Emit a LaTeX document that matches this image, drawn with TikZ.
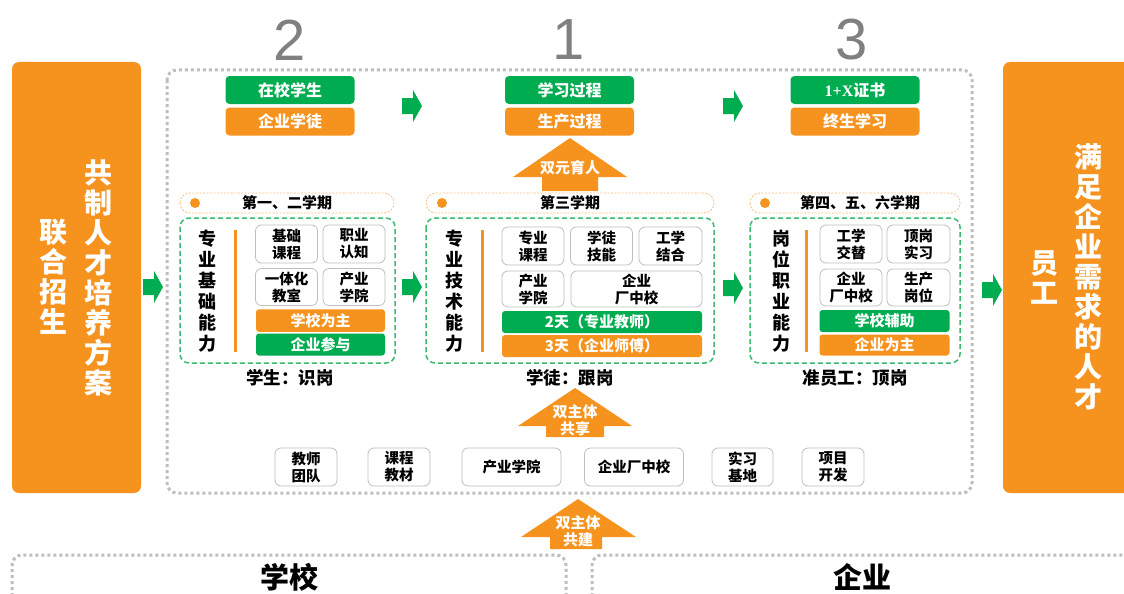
\documentclass[tikz,border=0pt]{standalone}
\usepackage{fontspec}
\setmainfont{Noto Sans CJK SC}
\newfontfamily\numfont{Liberation Sans}
\newfontfamily\serifb{Liberation Serif}
\definecolor{og}{RGB}{246,146,30}
\definecolor{gn}{RGB}{0,172,80}
\definecolor{lg}{RGB}{190,190,190}
\definecolor{dg}{RGB}{60,185,110}
\definecolor{lo}{RGB}{248,190,130}
\definecolor{numgray}{RGB}{128,128,128}
\tikzset{
  fs/.style={font=\bfseries\fontsize{#1}{#1*1.15}\selectfont},
  bigbox/.style={fill=og, rounded corners=7},
  vtext/.style={text=white, align=center, inner sep=0, font=\bfseries\fontsize{28}{30}\selectfont},
  topbar/.style={rounded corners=4, text=white, minimum width=129, minimum height=28, inner sep=0, font=\bfseries\fontsize{16}{18}\selectfont},
  gbar/.style={fill=gn, rounded corners=3, text=white, inner sep=0, font=\bfseries\fontsize{15}{17}\selectfont},
  obar/.style={fill=og, rounded corners=3, text=white, inner sep=0, font=\bfseries\fontsize{15}{17}\selectfont},
  gbox/.style={draw=lg, line width=0.8, fill=white, rounded corners=6, align=center, inner sep=0, font=\bfseries\fontsize{14.5}{17}\selectfont},
  dotline/.style={draw=lg, line width=3, dash pattern=on 3 off 3},
  grdash/.style={draw=dg, line width=1.5, dash pattern=on 5 off 3, rounded corners=9},
  pill/.style={draw=lo, line width=0.8, dash pattern=on 2 off 1.5, rounded corners=10},
  coltext/.style={align=center, inner sep=0, font=\bfseries\fontsize{18}{21}\selectfont},
  lab/.style={inner sep=0, font=\bfseries\fontsize{17.5}{20}\selectfont},
  semtext/.style={inner sep=0, font=\bfseries\fontsize{15}{17}\selectfont},
  arrtext/.style={text=white, align=center, inner sep=0, font=\bfseries\fontsize{15}{17}\selectfont},
  num/.style={text=numgray, inner sep=0, font=\numfont\fontsize{58}{60}\selectfont},
  garr/.pic={\fill[gn] (-10,-8) -- (1,-8) -- (1,-16) -- (10,0) -- (1,16) -- (1,8) -- (-10,8) -- cycle;},
}
\begin{document}
\begin{tikzpicture}[x=1pt,y=-1pt]
\useasboundingbox (0,0) rectangle (1124,594);
\clip (0,0) rectangle (1124,594);
\fill[white] (0,0) rectangle (1124,594);

% side boxes
\fill[bigbox] (12,62) rectangle (141,493);
\node[vtext] (lefta) at (98,278) {共\\制\\人\\才\\培\\养\\方\\案};
\node[vtext] (leftb) at (53,277) {联\\合\\招\\生};
\fill[bigbox] (1003,62) rectangle (1150,493);
\node[vtext] (righta) at (1088,277) {满\\足\\企\\业\\需\\求\\的\\人\\才};
\node[vtext] (rightb) at (1044,277) {员\\工};

% main dotted frame
\draw[dotline, rounded corners=10] (167,70) rectangle (972,493);
% bottom frames
\draw[dotline, rounded corners=10] (12,620) -- (12,555) -- (566,555) -- (566,620);
\draw[dotline, rounded corners=10] (592,620) -- (592,555) -- (1140,555);
\node[inner sep=0, font=\bfseries\fontsize{29}{32}\selectfont] (school) at (289,577) {学校};
\node[inner sep=0, font=\bfseries\fontsize{29}{32}\selectfont] (firm) at (862,577) {企业};

% numbers
\node[num] (n2) at (290,40) {2};
\node[num] (n1) at (569,40) {1};
\node[num] (n3) at (852,40) {3};

% top bars
\node[topbar, fill=gn] (t1) at (290,90) {在校学生};
\node[topbar, fill=og] (t2) at (290,121.5) {企业学徒};
\node[topbar, fill=gn] (t3) at (569.5,90) {学习过程};
\node[topbar, fill=og] (t4) at (569.5,121.5) {生产过程};
\node[topbar, fill=gn] (t5) at (855,90) {{\serifb\bfseries 1+X}证书};
\node[topbar, fill=og] (t6) at (855,121.5) {终生学习};
\pic at (412,106) {garr};
\pic at (733,106) {garr};

% up arrow 双元育人
\fill[og] (570,138) -- (627,177) -- (598,177) -- (598,191) -- (542,191) -- (542,177) -- (513,177) -- cycle;
\node[arrtext] (dual) at (570,168) {双元育人};

% semester pills
\draw[pill] (180,193) rectangle (394,213);
\fill[og] (195,203) circle (5);
\node[semtext] (s1) at (287,203) {第一、二学期};
\draw[pill] (426,193) rectangle (714,213);
\fill[og] (442,203) circle (5);
\node[semtext] (s2) at (570,203) {第三学期};
\draw[pill] (750,193) rectangle (960,213);
\fill[og] (765,203) circle (5);
\node[semtext] (s3) at (860,203) {第四、五、六学期};

% green dashed frames
\draw[grdash] (180,218) rectangle (395,363);
\draw[grdash] (426,218) rectangle (714,363);
\draw[grdash] (750,218) rectangle (960,363);

% column 1
\node[coltext] (v1) at (207,291) {专\\业\\基\\础\\能\\力};
\draw[og, line width=3] (235,230) -- (235,352);
\node[gbox, minimum width=62, minimum height=38] (b11) at (286.5,244) {基础\\课程};
\node[gbox, minimum width=62, minimum height=38] (b12) at (354,244) {职业\\认知};
\node[gbox, minimum width=62, minimum height=37] (b13) at (286.5,287) {一体化\\教室};
\node[gbox, minimum width=62, minimum height=37] (b14) at (354,287) {产业\\学院};
\node[obar, minimum width=129, minimum height=22.5] (p11) at (320.5,320.5) {学校为主};
\node[gbar, minimum width=129, minimum height=22] (p12) at (320.5,344.5) {企业参与};
\node[lab] (l1) at (290,378) {学生：识岗};

% column 2
\node[coltext] (v2) at (454,291) {专\\业\\技\\术\\能\\力};
\draw[og, line width=3] (482,230) -- (482,352);
\node[gbox, minimum width=62, minimum height=38] (b21) at (533,246) {专业\\课程};
\node[gbox, minimum width=62, minimum height=38] (b22) at (601.5,246) {学徒\\技能};
\node[gbox, minimum width=63, minimum height=38] (b23) at (670.5,246) {工学\\结合};
\node[gbox, minimum width=62, minimum height=36] (b24) at (533,289) {产业\\学院};
\node[gbox, minimum width=131, minimum height=36] (b25) at (636.5,289) {企业\\厂中校};
\node[gbar, minimum width=200, minimum height=22] (p21) at (602,322) {2天（专业教师）};
\node[obar, minimum width=200, minimum height=22] (p22) at (602,346) {3天（企业师傅）};
\node[lab] (l2) at (570,378) {学徒：跟岗};

% column 3
\node[coltext] (v3) at (781,291) {岗\\位\\职\\业\\能\\力};
\draw[og, line width=3] (806,230) -- (806,352);
\node[gbox, minimum width=62, minimum height=38] (b31) at (851,244) {工学\\交替};
\node[gbox, minimum width=63, minimum height=38] (b32) at (918.5,244) {顶岗\\实习};
\node[gbox, minimum width=62, minimum height=37] (b33) at (851,287.5) {企业\\厂中校};
\node[gbox, minimum width=63, minimum height=37] (b34) at (918.5,287.5) {生产\\岗位};
\node[gbar, minimum width=130, minimum height=22] (p31) at (884.5,321) {学校辅助};
\node[obar, minimum width=130, minimum height=21] (p32) at (884.5,345) {企业为主};
\node[lab] (l3) at (855,378) {准员工：顶岗};

% middle green arrows
\pic at (153,287) {garr};
\pic at (412,287) {garr};
\pic at (733,288) {garr};
\pic at (992,290) {garr};

% up arrow 双主体共享
\fill[og] (575,388) -- (632,426) -- (604,426) -- (604,437) -- (546,437) -- (546,426) -- (518,426) -- cycle;
\node[arrtext] (share) at (575,420) {双主体\\共享};

% resource boxes
\node[gbox, minimum width=62, minimum height=38] (r1) at (306,467) {教师\\团队};
\node[gbox, minimum width=62, minimum height=38] (r2) at (399,467) {课程\\教材};
\node[gbox, minimum width=99, minimum height=38] (r3) at (511.5,467) {产业学院};
\node[gbox, minimum width=99, minimum height=38] (r4) at (634,467) {企业厂中校};
\node[gbox, minimum width=61, minimum height=38] (r5) at (742.5,467) {实习\\基地};
\node[gbox, minimum width=62, minimum height=38] (r6) at (833,467) {项目\\开发};

% up arrow 双主体共建
\fill[og] (578,499) -- (636,537) -- (602,537) -- (602,549) -- (550,549) -- (550,537) -- (521,537) -- cycle;
\node[arrtext] (build) at (578,531) {双主体\\共建};
\end{tikzpicture}
\end{document}
